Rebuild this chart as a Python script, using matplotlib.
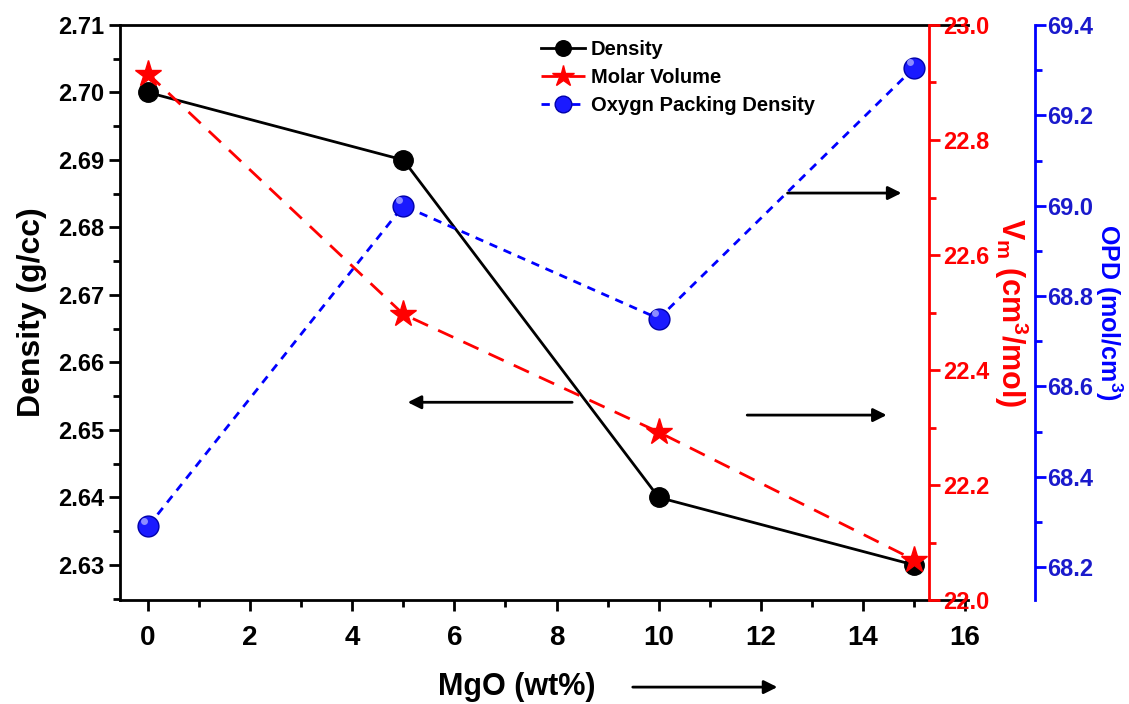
import numpy as np
import matplotlib
matplotlib.use("Agg")
import matplotlib.pyplot as plt
from matplotlib.ticker import MultipleLocator

plt.rcParams['font.family'] = ['Liberation Sans', 'DejaVu Sans']
plt.rcParams['mathtext.default'] = 'regular'

# data
mgo = [0, 5, 10, 15]
density = [2.700, 2.690, 2.640, 2.630]
molar_volume = [22.915, 22.497, 22.292, 22.070]
opd = [68.29, 69.00, 68.75, 69.305]

fig = plt.figure(figsize=(11.29, 7.04), dpi=100)
ax = fig.add_axes([0.1063, 0.1477, 0.7507, 0.8168])

# density (left axis)
l1, = ax.plot(mgo, density, color="black", lw=2, marker="o", ms=14,
              mfc="black", mec="black", label="Density", zorder=5)
ax.set_xlim(-0.55, 16.05)
ax.set_ylim(2.6248, 2.71)
ax.xaxis.set_major_locator(MultipleLocator(2))
ax.xaxis.set_minor_locator(MultipleLocator(1))
ax.yaxis.set_major_locator(MultipleLocator(0.01))
ax.yaxis.set_minor_locator(MultipleLocator(0.005))
ax.tick_params(axis="both", which="major", direction="out", length=8, width=2,
               labelsize=17)
ax.tick_params(axis="x", labelsize=20, pad=10)
ax.tick_params(axis="both", which="minor", direction="out", length=5, width=2)
for lab in ax.get_xticklabels() + ax.get_yticklabels():
    lab.set_fontweight("bold")
for s in ["left", "bottom", "top"]:
    ax.spines[s].set_linewidth(2)
ax.spines["right"].set_visible(False)
ax.set_ylabel("Density (g/cc)", fontsize=23, fontweight="bold", labelpad=8)

# molar volume (red axis)
ax2 = ax.twinx()
l2, = ax2.plot(mgo, molar_volume, color="red", lw=2, ls=(0, (6, 4)),
               marker="*", ms=20, mfc="red", mec="red", label="Molar Volume",
               zorder=5)
ax2.set_ylim(22.0, 23.0)
ax2.yaxis.set_major_locator(MultipleLocator(0.2))
ax2.yaxis.set_minor_locator(MultipleLocator(0.1))
ax2.spines["right"].set_position(("axes", 0.955))
ax2.spines["right"].set_color("red")
ax2.spines["right"].set_linewidth(2)
for s in ["left", "top", "bottom"]:
    ax2.spines[s].set_visible(False)
ax2.tick_params(axis="y", which="major", colors="red", direction="out",
                length=8, width=2, labelsize=17, pad=2)
ax2.tick_params(axis="y", which="minor", colors="red", direction="out",
                length=5, width=2)
for lab in ax2.get_yticklabels():
    lab.set_fontweight("bold")
ax2.set_ylabel(r"V$_\mathregular{m}$ (cm$^\mathregular{3}$/mol)", color="red",
               fontsize=22, fontweight="bold", rotation=-90, labelpad=2,
               va="bottom")

# oxygen packing density (blue axis)
ax3 = ax.twinx()
l3, = ax3.plot(mgo, opd, color="blue", lw=2, ls=(0, (3, 2.5)),
               marker="o", ms=15, mfc="#1a1aff", mec="#0000aa",
               label="Oxygn Packing Density", zorder=5)
ax3.plot(np.array(mgo) - 0.08, np.array(opd) + 0.012, ls="none", marker="o",
         ms=5, mfc="#8c8cff", mec="none", zorder=6)
ax3.set_ylim(68.127, 69.4)
ax3.yaxis.set_major_locator(MultipleLocator(0.2))
ax3.yaxis.set_minor_locator(MultipleLocator(0.1))
ax3.spines["right"].set_position(("axes", 1.079))
ax3.spines["right"].set_color("blue")
ax3.spines["right"].set_linewidth(2)
for s in ["left", "top", "bottom"]:
    ax3.spines[s].set_visible(False)
ax3.tick_params(axis="y", which="major", colors="blue", direction="out",
                length=8, width=2, labelsize=17, pad=1)
ax3.tick_params(axis="y", which="minor", colors="blue", direction="out",
                length=5, width=2)
for lab in ax3.get_yticklabels():
    lab.set_fontweight("bold")
    lab.set_color("#1a1acc")
ax3.set_ylabel(r"OPD (mol/cm$^\mathregular{3}$)", color="blue",
               fontsize=18, fontweight="bold", rotation=-90, labelpad=0,
               va="bottom")

# legend
leg = ax.legend(handles=[l1, l2, l3], loc="upper left",
                bbox_to_anchor=(0.475, 1.005), frameon=False, fontsize=14.5,
                handlelength=2.2, handletextpad=0.3, labelspacing=0.45,
                markerscale=0.8)
for t in leg.get_texts():
    t.set_fontweight("bold")

# arrows pointing to the relevant axis
arrow = dict(arrowstyle="-|>", color="black", lw=2, mutation_scale=20)
ax.annotate("", xy=(14.81, 2.6851), xytext=(12.47, 2.6851), arrowprops=arrow)
ax.annotate("", xy=(5.03, 2.6541), xytext=(8.36, 2.6541), arrowprops=arrow)
ax.annotate("", xy=(14.52, 2.6522), xytext=(11.68, 2.6522), arrowprops=arrow)

fig.text(0.458, 0.024, "MgO (wt%)", fontsize=22, fontweight="bold",
         ha="center", va="center")
fig.add_artist(matplotlib.patches.FancyArrowPatch(
    (0.558, 0.024), (0.691, 0.024), transform=fig.transFigure,
    arrowstyle="-|>", color="black", lw=2, mutation_scale=20))

fig.savefig("out.png", dpi=100)
